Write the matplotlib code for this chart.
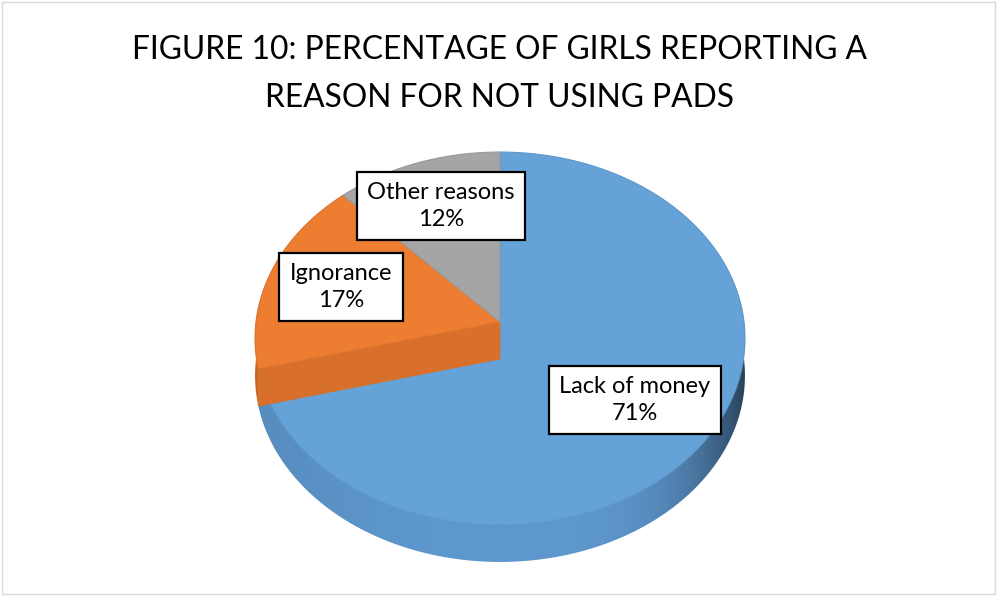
import numpy as np
import matplotlib.pyplot as plt
from matplotlib.patches import Polygon, Rectangle

# data
categories = ["Lack of money", "Ignorance", "Other reasons"]
percentages = [71, 17, 12]
title = "FIGURE 10: PERCENTAGE OF GIRLS REPORTING A\nREASON FOR NOT USING PADS"

# styles / layout (pixel space of the 998x597 figure)
top_colors = ["#65A2D8", "#ED7D31", "#A5A5A5"]
side_colors = ["#5E98CE", "#D8702B", "#8F8F8F"]
label_pos = [(635, 400), (341, 287), (441, 206)]
CX, CY = 500, 322          # pie centre on screen
A, B, K = 244, 185, 0.0885  # semi-axes and perspective factor
DEPTH = 37

plt.rcParams["font.family"] = ["Lato", "DejaVu Sans"]


def project(t, drop=0.0):
    s, c = np.sin(t), np.cos(t)
    w = 1 - K * s
    return np.column_stack([CX + A * c / w, CY + B * s / w + drop])


def rgb(hex_color):
    return np.array([int(hex_color[i:i + 2], 16) for i in (1, 3, 5)]) / 255.0


fig = plt.figure(figsize=(9.98, 5.97), dpi=100)
ax = fig.add_axes([0, 0, 1, 1])
ax.set_xlim(0, 998)
ax.set_ylim(597, 0)
ax.axis("off")

# chart frame
ax.add_patch(Rectangle((2, 2), 993, 592, fill=False, ec="#D9D9D9", lw=1.0))

fracs = np.array(percentages) / sum(percentages)
bounds = -np.pi / 2 + 2 * np.pi * np.concatenate([[0], np.cumsum(fracs)])

# outer side walls (front half only, the top faces cover the rest),
# filled with a horizontal gradient that darkens towards the right rim
x0, x1 = CX - A - 10, CX + A + 10
xs = np.linspace(x0, x1, 400)
u = (xs - CX) / A
shade_f = 1.0 - 0.55 * np.clip(u, 0, 1) ** 4 - 0.08 * np.clip(-u, 0, 1) ** 2
for i in range(len(percentages)):
    t0, t1 = max(bounds[i], -0.4), min(bounds[i + 1], np.pi + 0.4)
    if t1 <= t0:
        continue
    ts = np.linspace(t0, t1, 200)
    pts = np.vstack([project(ts), project(ts[::-1], DEPTH)])
    poly = Polygon(pts, closed=True, fc="none", ec="none")
    ax.add_patch(poly)
    img = np.clip(rgb(side_colors[i])[None, None, :] * shade_f[None, :, None], 0, 1)
    im = ax.imshow(img, extent=(x0, x1, CY + B * 1.2 + DEPTH, CY - B), aspect="auto",
                   interpolation="bilinear", zorder=1)
    im.set_clip_path(poly)
    ax.set_xlim(0, 998)
    ax.set_ylim(597, 0)


def top_face(i, z):
    ts = np.linspace(bounds[i], bounds[i + 1], 200)
    pts = np.vstack([[CX, CY], project(ts)])
    return Polygon(pts, closed=True, fc=top_colors[i],
                   ec=tuple(rgb(top_colors[i]) * 0.93), lw=0.8, zorder=z)


ax.add_patch(top_face(0, 2))

# radial cut wall of the second slice
tb = bounds[1]
edge = project(np.array([tb]))[0]
wall = np.array([[CX, CY], edge, edge + [0, DEPTH], [CX, CY + DEPTH]])
ax.add_patch(Polygon(wall, closed=True, fc=side_colors[1],
                     ec=side_colors[1], lw=0.6, zorder=3))

for i in range(1, len(percentages)):
    ax.add_patch(top_face(i, 4))

# data labels
for name, pct, (x, y) in zip(categories, percentages, label_pos):
    ax.text(x, y, f"{name}\n{pct}%", ha="center", va="center", fontsize=17,
            linespacing=1.3, color="black", zorder=6,
            bbox=dict(boxstyle="square,pad=0.44", fc="white", ec="black", lw=1.6))

ax.text(500, 74, title, ha="center", va="center", fontsize=22.9,
        linespacing=1.75, color="black")

fig.savefig("out.png", dpi=100)
